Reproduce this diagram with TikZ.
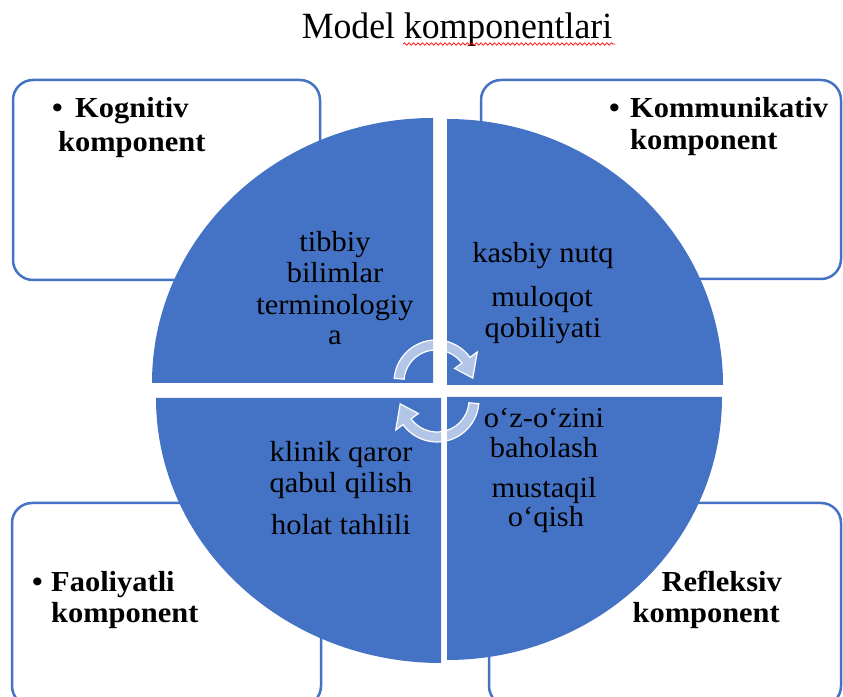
\documentclass[tikz,border=0pt]{standalone}
\usepackage{fontspec}
\setmainfont{Liberation Serif}
\newfontfamily\bodyfnt{Liberation Serif}[FakeStretch=1.05]
\newfontfamily\titlefnt{Liberation Serif}[FakeStretch=0.965]
\usetikzlibrary{decorations.pathmorphing}
\definecolor{segblue}{HTML}{4472C4}
\begin{document}
\begin{tikzpicture}[x=1pt,y=1pt,
  box/.style={draw=segblue, line width=2.5pt, fill=white, rounded corners=20pt, inner sep=0pt},
  seg/.style={fill=segblue},
  cyc/.style={fill=white, fill opacity=0.6, draw=white, line width=1.2pt},
  lbl/.style={anchor=base, inner sep=0pt, font=\bodyfnt\fontsize{29}{31}\selectfont},
  blbl/.style={inner sep=0pt, font=\bodyfnt\bfseries\fontsize{29}{31}\selectfont}]
\useasboundingbox (0,0) rectangle (843,696);
\clip (0,0) rectangle (843,696);

% title
\node[anchor=base, inner sep=0pt, font=\titlefnt\fontsize{37}{40}\selectfont] (title) at (457,657) {Model komponentlari};
\coordinate (ulA) at (403,652);
\coordinate (ulB) at (615,652);
\draw[red, line width=0.7pt, decorate, decoration={snake, amplitude=1.2pt, segment length=4.5pt}] (ulA) -- (ulB);

% corner boxes
\node[box, minimum width=307pt, minimum height=200pt] (kbox) at (166.5,516) {};
\node[box, minimum width=360pt, minimum height=199pt] (mbox) at (661,516.5) {};
\node[box, minimum width=309pt, minimum height=203pt] (fbox) at (166.5,91.5) {};
\node[box, minimum width=352pt, minimum height=203pt] (rbox) at (665,91.5) {};

% quadrants
\fill[seg] (433,313) -- (152,313) arc[start angle=180,end angle=90,x radius=281pt,y radius=265pt] -- cycle;
\fill[seg] (447,311) -- (447,577) arc[start angle=90,end angle=0,x radius=276pt,y radius=266pt] -- cycle;
\fill[seg] (441,298) -- (156,298) arc[start angle=180,end angle=270,x radius=285pt,y radius=265pt] -- cycle;
\fill[seg] (447,299) -- (722,299) arc[start angle=0,end angle=-90,x radius=275pt,y radius=263pt] -- cycle;

% cycle arrows
\begin{scope}[shift={(436,314)}]
\filldraw[cyc] (175:42pt) arc[start angle=175,end angle=36,radius=42pt] -- (36:51pt) -- (6:37pt) -- (36:23pt) -- (36:32pt) arc[start angle=36,end angle=175,radius=32pt] -- cycle;
\end{scope}
\begin{scope}[shift={(437,296)}]
\filldraw[cyc] (355:42pt) arc[start angle=355,end angle=216,radius=42pt] -- (216:51pt) -- (186:37pt) -- (216:23pt) -- (216:32pt) arc[start angle=216,end angle=355,radius=32pt] -- cycle;
\end{scope}

% box texts
\node[blbl, anchor=base west] (kbul) at (52,578) {•};
\node[blbl, anchor=base west] (k1) at (75,578) {Kognitiv};
\node[blbl, anchor=base west] (k2) at (58,544) {komponent};
\node[blbl, anchor=base west] (mbul) at (609,578) {•};
\node[blbl, anchor=base west] (m1) at (630,578) {Kommunikativ};
\node[blbl, anchor=base west] (m2) at (630,546) {komponent};
\node[blbl, anchor=base west] (fbul) at (32,104) {•};
\node[blbl, anchor=base west] (f1) at (51,104) {Faoliyatli};
\node[blbl, anchor=base west] (f2) at (51,74) {komponent};
\node[blbl, anchor=base east] (r1) at (782,104) {Refleksiv};
\node[blbl, anchor=base east] (r2) at (780,74) {komponent};

% quadrant texts
\node[lbl] (a1) at (335,444) {tibbiy};
\node[lbl] (a2) at (335,413) {bilimlar};
\node[lbl] (a3) at (335,381) {terminologiy};
\node[lbl] (a4) at (335,351) {a};
\node[lbl] (b1) at (543,433) {kasbiy nutq};
\node[lbl] (b2) at (542,389) {muloqot};
\node[lbl] (b3) at (543,358) {qobiliyati};
\node[lbl] (c1) at (341,234) {klinik qaror};
\node[lbl] (c2) at (341,203) {qabul qilish};
\node[lbl] (c3) at (341,161) {holat tahlili};
\node[lbl] (d1) at (544,268) {o‘z-o‘zini};
\node[lbl] (d2) at (544,238) {baholash};
\node[lbl] (d3) at (544,198) {mustaqil};
\node[lbl] (d4) at (546,169) {o‘qish};
\end{tikzpicture}
\end{document}
